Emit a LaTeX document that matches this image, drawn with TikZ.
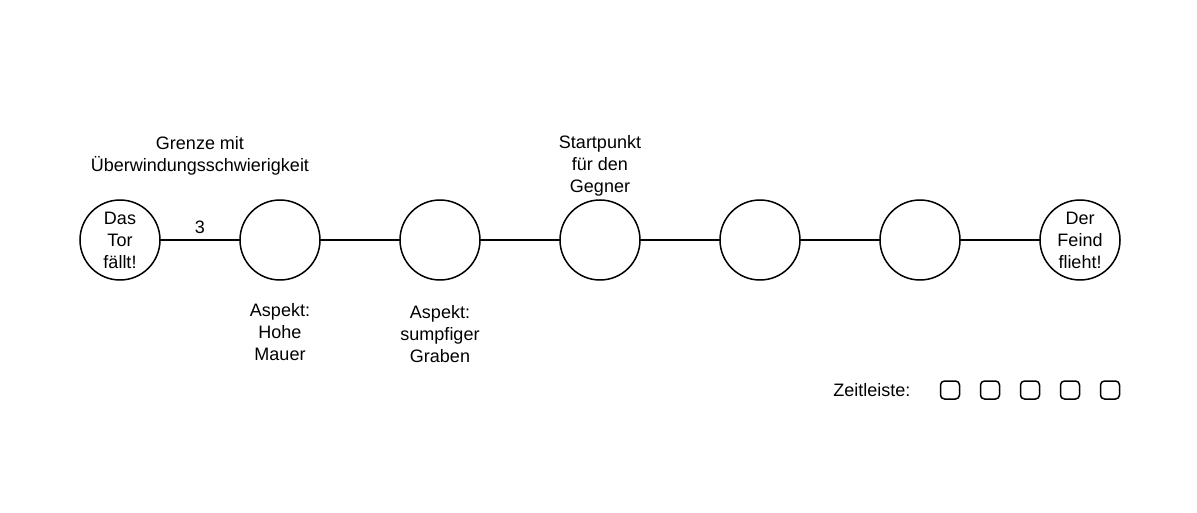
\documentclass[tikz,border=0pt]{standalone}
\usepackage{fontspec}
\setmainfont{Liberation Sans}
\usetikzlibrary{positioning}

\begin{document}
\begin{tikzpicture}[
            x=1pt,y=-1pt,
            every node/.style={align=center,font=\fontsize{18}{22}\selectfont},
            station/.style={circle,draw,line width=1.5pt,minimum size=80pt,inner sep=0pt,outer sep=0pt},
            label node/.style={draw=none,inner sep=2pt},
            slot/.style={rectangle,draw,line width=1.5pt,rounded corners=4pt,minimum width=19pt,minimum height=18pt,inner sep=0pt,outer sep=0pt},
            path/.style={line width=1.5pt}
        ]
        \useasboundingbox (0,0) rectangle (1197,513);
        \node [station] (tor) at (120,240) {Das\\Tor\\fällt!};
        \node [station,right=80pt of tor] (node 1) {};
        \node [station,right=80pt of node 1] (node 2) {};
        \node [station,right=80pt of node 2] (node 3) {};
        \node [station,right=80pt of node 3] (node 4) {};
        \node [station,right=80pt of node 4] (node 5) {};
        \node [station,right=80pt of node 5] (feind) {Der\\Feind\\flieht!};

        \draw[path] (tor) -- node[label node,above=4pt] (weight) {3} (node 1);
        \draw[path] (node 1) -- (node 2);
        \draw[path] (node 2) -- (node 3);
        \draw[path] (node 3) -- (node 4);
        \draw[path] (node 4) -- (node 5);
        \draw[path] (node 5) -- (feind);

        \node [label node,above=40pt of weight] (grenze) {Grenze mit\\Überwindungsschwierigkeit};
        \node [label node,below=21pt of node 1] (mauer) {Aspekt:\\Hohe\\Mauer};
        \node [label node,below=23pt of node 2] (graben) {Aspekt:\\sumpfiger\\Graben};
        \node [label node,above=2pt of node 3] (start) {Startpunkt\\für den\\Gegner};

        \node [slot] (slot 1) at (950,390) {};
        \node [slot,right=21pt of slot 1] (slot 2) {};
        \node [slot,right=21pt of slot 2] (slot 3) {};
        \node [slot,right=21pt of slot 3] (slot 4) {};
        \node [slot,right=21pt of slot 4] (slot 5) {};
        \node [label node,left=28pt of slot 1] (zeit) {Zeitleiste:};
    \end{tikzpicture}
\end{document}
